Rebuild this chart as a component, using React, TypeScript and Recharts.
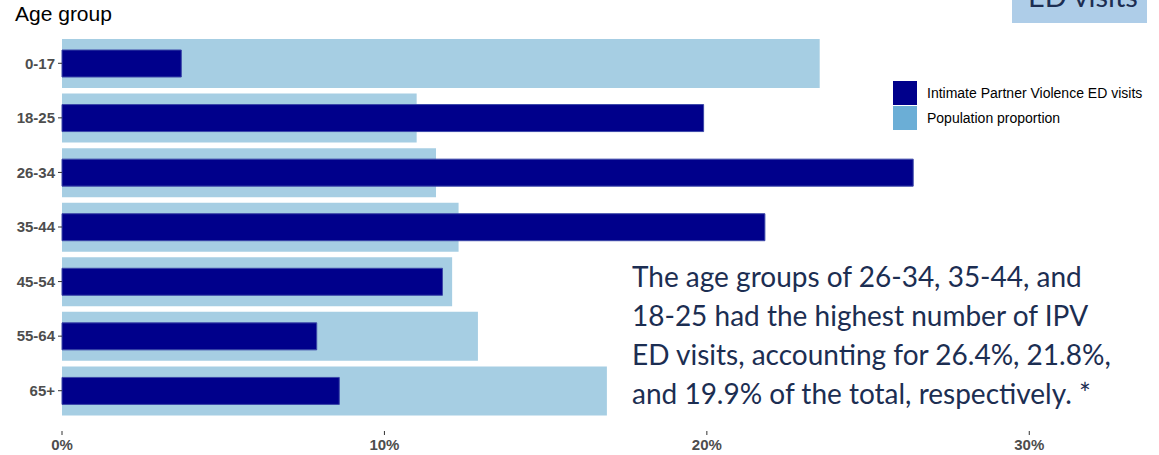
import React from 'react'
import { Bar, BarChart, XAxis, YAxis } from 'recharts'

const ageGroups = ['0-17', '18-25', '26-34', '35-44', '45-54', '55-64', '65+']
const populationShare = [23.5, 11.0, 11.6, 12.3, 12.1, 12.9, 16.9]
const ipvShare = [3.7, 19.9, 26.4, 21.8, 11.8, 7.9, 8.6]
const xTicks = [0, 10, 20, 30]

const data = ageGroups.map((age, i) => ({
    age,
    population: populationShare[i],
    ipv: ipvShare[i],
}))

const axisFont = '"Liberation Sans", Arial, sans-serif'
const noteFont = 'Lato, "Open Sans", sans-serif'

const XTick = (props: any) => {
    const { x, y, payload } = props
    return (
        <g>
            <line x1={x} x2={x} y1={y + 5} y2={y + 9} stroke='#333' />
            <text x={x} y={y + 24} textAnchor='middle' fontSize={15} fontWeight='bold' fill='#4d4d4d' fontFamily={axisFont}>
                {payload.value}%
            </text>
        </g>
    )
}

export default function App() {
    return (
        <div style={{ position: 'absolute', left: 0, top: 0, width: 1159, height: 455, background: '#fff', overflow: 'hidden' }}>
            <BarChart
                width={1159}
                height={455}
                data={data}
                layout='vertical'
                margin={{ top: 36, right: 33, left: 4, bottom: 7 }}
            >
                <XAxis type='number' domain={[0, 33]} ticks={xTicks} axisLine={false} tickLine={false} tick={<XTick />} height={30} />
                <YAxis yAxisId='ipv' type='category' dataKey='age' hide width={0} />
                <YAxis
                    yAxisId='pop'
                    type='category'
                    dataKey='age'
                    axisLine={false}
                    tickSize={4}
                    tickMargin={3}
                    tickLine={{ stroke: '#333' }}
                    tick={{ fontSize: 15, fontWeight: 'bold', fill: '#4d4d4d', fontFamily: axisFont }}
                    width={58}
                />
                <Bar yAxisId='pop' dataKey='population' fill='#a6cee3' barSize={49} isAnimationActive={false} />
                <Bar yAxisId='ipv' dataKey='ipv' fill='#00008b' stroke='#3b47a8' strokeWidth={1} barSize={27} isAnimationActive={false} />
            </BarChart>

            <div style={{ position: 'absolute', left: 15, top: 2, fontSize: 21, fontFamily: axisFont, color: '#000' }}>Age group</div>

            <div style={{ position: 'absolute', left: 1012, top: 0, width: 135, height: 23, background: '#aecde8', overflow: 'hidden' }}>
                <div style={{ position: 'absolute', left: 16, top: -22, fontSize: 29, fontFamily: noteFont, color: '#1c2e52', whiteSpace: 'nowrap' }}>ED visits</div>
            </div>

            <div style={{ position: 'absolute', left: 893, top: 80, fontFamily: axisFont, fontSize: 14, color: '#000' }}>
                <div style={{ display: 'flex', alignItems: 'center', height: 26 }}>
                    <div style={{ width: 24, height: 24, background: '#00008b', marginRight: 10 }} />
                    <span>Intimate Partner Violence ED visits</span>
                </div>
                <div style={{ display: 'flex', alignItems: 'center', height: 24 }}>
                    <div style={{ width: 24, height: 24, background: '#6baed6', marginRight: 10 }} />
                    <span>Population proportion</span>
                </div>
            </div>

            <div style={{ position: 'absolute', left: 632, top: 257, fontSize: 28, lineHeight: '39px', fontFamily: noteFont, color: '#1c2e52', whiteSpace: 'nowrap' }}>
                <div>The age groups of 26-34, 35-44, and</div>
                <div>18-25 had the highest number of IPV</div>
                <div>ED visits, accounting for 26.4%, 21.8%,</div>
                <div>and 19.9% of the total, respectively. *</div>
            </div>
        </div>
    )
}
